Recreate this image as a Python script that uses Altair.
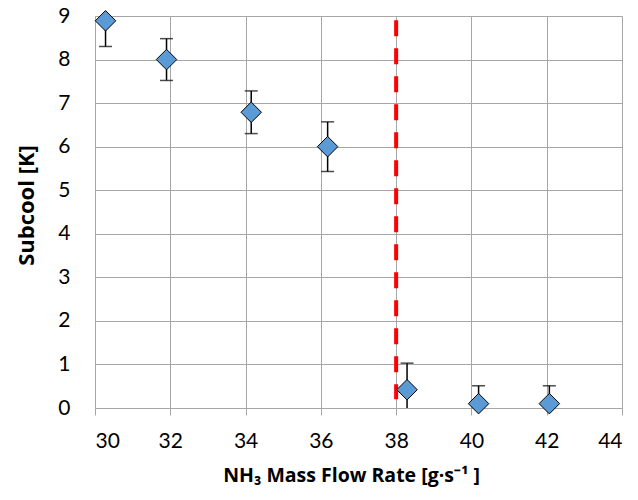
import altair as alt
import pandas as pd

flow = [30.28, 31.9, 34.15, 36.18, 38.29, 40.19, 42.07]
subcool = [8.89, 8.0, 6.79, 6.0, 0.42, 0.1, 0.1]
err = [0.59, 0.48, 0.49, 0.57, 0.61, 0.41, 0.41]
x_ticks = [30, 32, 34, 36, 38, 40, 42, 44]
y_ticks = [0, 1, 2, 3, 4, 5, 6, 7, 8, 9]
limit_x = [38]
limit_y0 = [0.2]
limit_y1 = [8.9]

FONT = "Lato"
TFONT = "Open Sans"
GRID = "#A6A6A6"

df = pd.DataFrame({"flow": flow, "subcool": subcool, "err": err})
df["lo"] = (df["subcool"] - df["err"]).clip(lower=0)
df["hi"] = (df["subcool"] + df["err"]).clip(upper=9)
df["lo_raw"] = df["subcool"] - df["err"]
df["hi_raw"] = df["subcool"] + df["err"]

caps = pd.concat([
    pd.DataFrame({"flow": df["flow"], "cap": df["lo_raw"]}),
    pd.DataFrame({"flow": df["flow"], "cap": df["hi_raw"]}),
])
caps = caps[(caps["cap"] > 0) & (caps["cap"] < 9)]

lim = pd.DataFrame({"x": limit_x, "y0": limit_y0, "y1": limit_y1})

xscale = alt.Scale(domain=[30, 44], nice=False, zero=False)
yscale = alt.Scale(domain=[0, 9], nice=False, zero=False)

xaxis = alt.Axis(
    values=x_ticks, title="NH₃ Mass Flow Rate [g·s⁻¹ ]", grid=True, gridColor=GRID,
    domainColor=GRID, tickColor=GRID, tickSize=7, labelFont=FONT, labelFontSize=21,
    labelColor="black", labelBaseline="middle", labelPadding=26,
    titleFont=TFONT, titleFontSize=19.5, titleFontWeight="bold", titleColor="black",
    titleX=256, titleY=67, titleBaseline="middle",
)
yaxis = alt.Axis(
    values=y_ticks, title="Subcool [K]", grid=True, gridColor=GRID, domainColor=GRID,
    ticks=False, tickSize=0, labelFont=FONT, labelFontSize=21, labelColor="black",
    labelPadding=25, titleFont=TFONT, titleFontSize=22, titleFontWeight="bold",
    titleColor="black", titleX=-69, titleY=189, titleBaseline="middle", titleAngle=-90,
)

base = alt.Chart(df)

bars = base.mark_rule(color="black", strokeWidth=1.5).encode(
    x=alt.X("flow:Q", scale=xscale, axis=xaxis),
    y=alt.Y("lo:Q", scale=yscale, axis=yaxis),
    y2="hi:Q",
)

cap_marks = alt.Chart(caps).mark_tick(
    color="black", orient="horizontal", size=13, thickness=1.5
).encode(
    x=alt.X("flow:Q", scale=xscale),
    y=alt.Y("cap:Q", scale=yscale),
)

limit = alt.Chart(lim).mark_rule(
    color="#FF0000", strokeWidth=4, strokeDash=[16, 12]
).encode(
    x=alt.X("x:Q", scale=xscale),
    y=alt.Y("y1:Q", scale=yscale),
    y2="y0:Q",
)

points = base.mark_point(
    shape="diamond", filled=True, size=420, fill="#5B9BD5", stroke="black",
    strokeWidth=1, opacity=1, clip=False
).encode(
    x=alt.X("flow:Q", scale=xscale),
    y=alt.Y("subcool:Q", scale=yscale),
)

chart = alt.layer(bars, cap_marks, limit, points).properties(
    width=527, height=392,
    autosize=alt.AutoSizeParams(type="none"),
    padding={"left": 87, "top": 8, "right": 8, "bottom": 84},
).configure_view(stroke=None).configure(background="white")

chart.save("out.html", embed_options={"renderer": "svg", "actions": False})
